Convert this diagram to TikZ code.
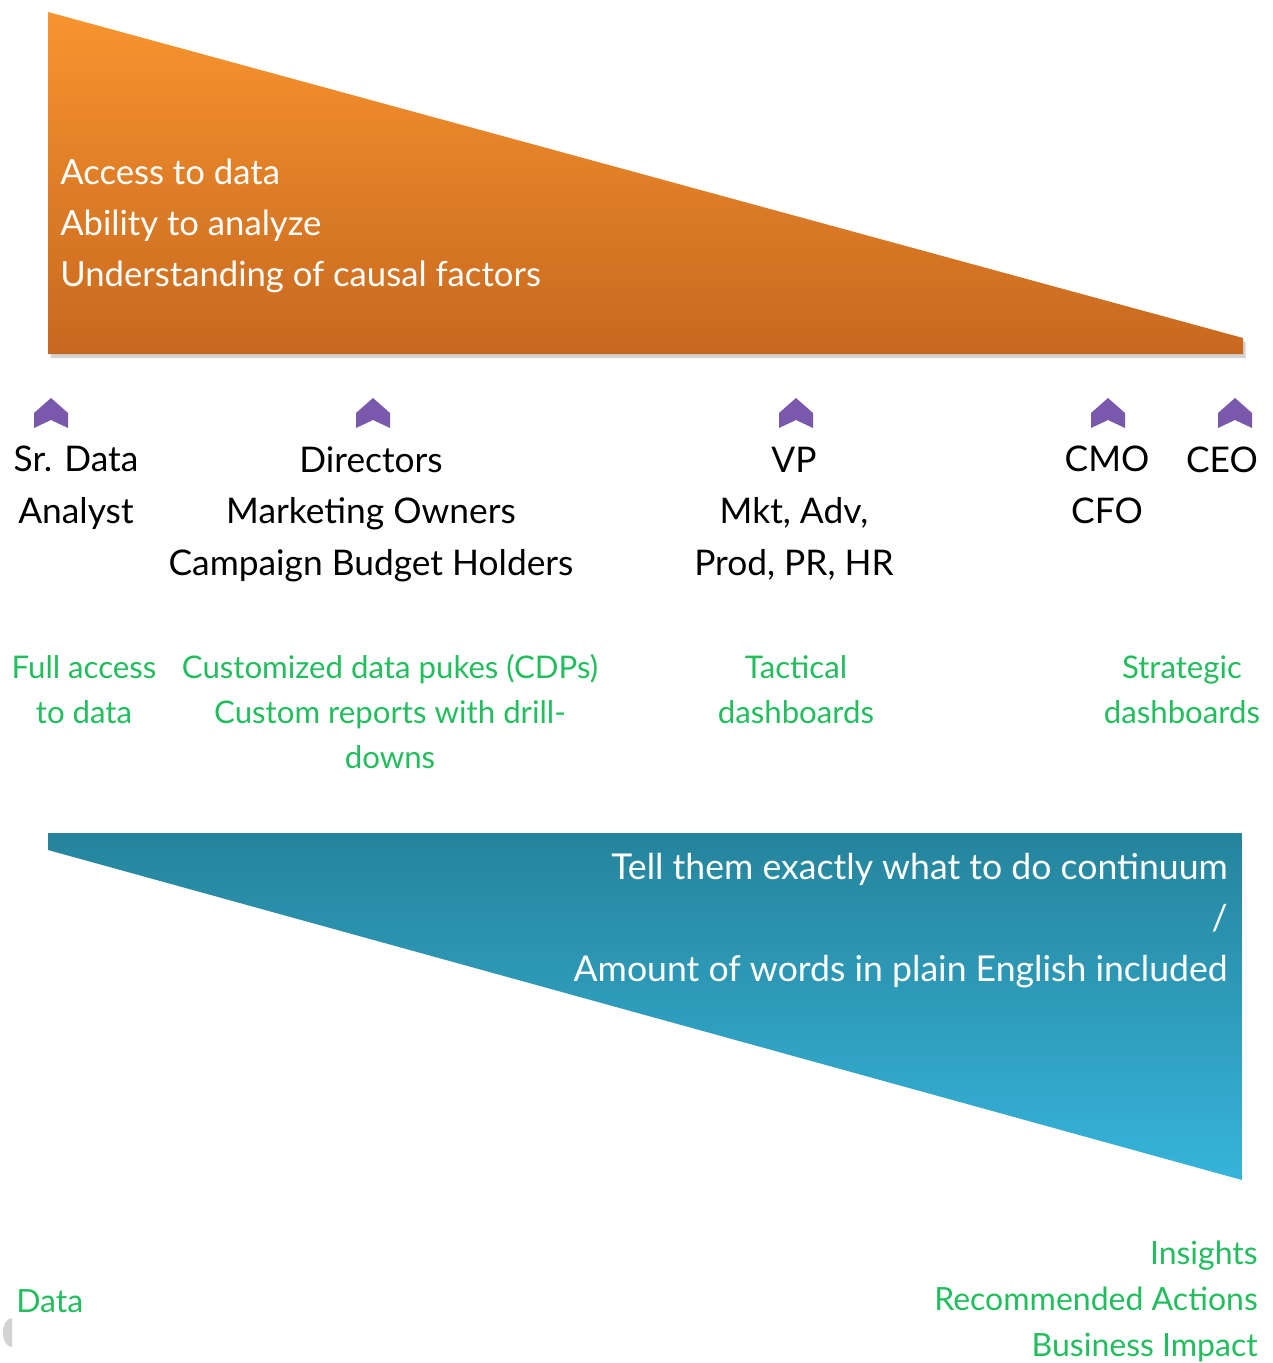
\documentclass[tikz,border=0pt]{standalone}
\usepackage{fontspec}
\setmainfont{Lato}
\usetikzlibrary{shadows}
\definecolor{orTop}{HTML}{F8942F}
\definecolor{orBot}{HTML}{C7681F}
\definecolor{blTop}{HTML}{26849C}
\definecolor{blBot}{HTML}{36B4DA}
\definecolor{chev}{HTML}{7A58AC}
\definecolor{grn}{HTML}{22BE5E}
\tikzset{
  chevron/.pic={\fill[chev] (-17,0) -- (0,-15) -- (17,0) -- (17,15) -- (0,7) -- (-17,15) -- cycle;},
  role/.style={align=center, anchor=base, inner sep=0pt, text=black,
    font=\fontsize{26.5}{38.5}\selectfont},
  deliv/.style={align=center, anchor=base, inner sep=0pt, text=grn,
    font=\fontsize{23.4}{33.75}\selectfont},
  wtext/.style={inner sep=0pt, text=white, font=\fontsize{26}{38.25}\selectfont},
}
\begin{document}
\begin{tikzpicture}[x=0.75pt, y=-0.75pt]
\useasboundingbox (0,0) rectangle (1272,1363);
% orange wedge
\shade[top color=orTop, bottom color=orBot,
  drop shadow={shadow xshift=2pt, shadow yshift=-3pt, opacity=0.35, fill=gray}]
  (48,12) -- (1243,338) -- (1243,354) -- (48,354) -- cycle;
\node[wtext, align=left, anchor=base west] (skills) at (60,286)
  {Access to data\\Ability to analyze\\Understanding of causal factors};
% chevrons
\pic at (51,413) {chevron};
\pic at (373,413) {chevron};
\pic at (796,413) {chevron};
\pic at (1108,413) {chevron};
\pic at (1235,413) {chevron};
% roles (base = baseline of last line)
\node[role] (analyst) at (76,523) {Sr. Data\\Analyst};
\node[role] (directors) at (371,575) {Directors\\Marketing Owners\\Campaign Budget Holders};
\node[role] (vp) at (794,575) {VP\\Mkt, Adv,\\Prod, PR, HR};
\node[role] (cmo) at (1107,523) {CMO\\CFO};
\node[role] (ceo) at (1222,472) {CEO};
% deliverables
\node[deliv] (full) at (84,723) {Full access\\to data};
\node[deliv] (cdp) at (390,768) {Customized data pukes (CDPs)\\Custom reports with drill-\\downs};
\node[deliv] (tact) at (796,723) {Tactical\\dashboards};
\node[deliv] (strat) at (1182,723) {Strategic\\dashboards};
% blue wedge
\shade[top color=blTop, bottom color=blBot]
  (48,833) -- (1242,833) -- (1242,1180) -- (48,850) -- cycle;
\node[wtext, align=right, anchor=base east, font=\fontsize{26.7}{38.25}\selectfont] (cont) at (1228,981)
  {Tell them exactly what to do continuum\\/\\Amount of words in plain English included};
% bottom labels
\node[deliv, anchor=base west, align=left, font=\fontsize{24}{34.5}\selectfont] (data) at (16,1312) {Data};
\node[deliv, anchor=base east, align=right, font=\fontsize{24}{34.5}\selectfont] (insights) at (1258,1356)
  {Insights\\Recommended Actions\\Business Impact};
% grey artifact
\fill[gray!35] (12,1347) arc[start angle=90, end angle=270, x radius=9, y radius=14.5] -- cycle;
\end{tikzpicture}
\end{document}
